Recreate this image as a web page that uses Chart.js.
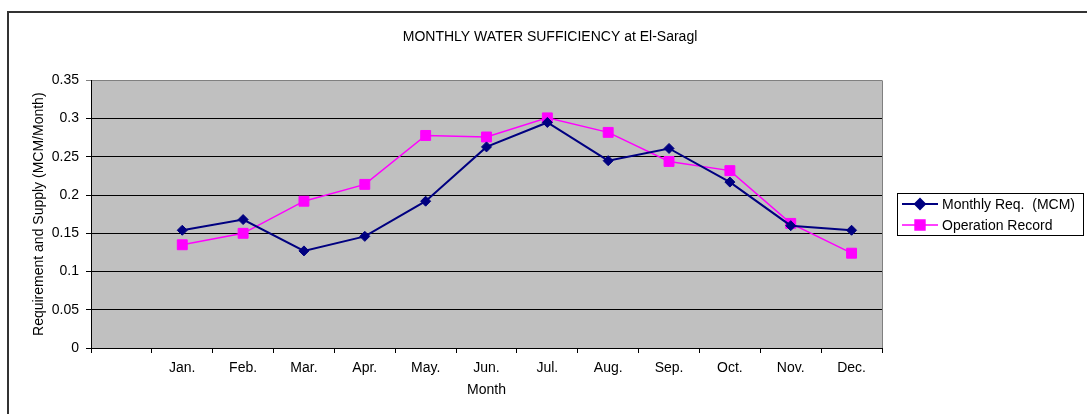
<!DOCTYPE html>
<html>
<head>
<meta charset="utf-8">
<script src="https://cdn.jsdelivr.net/npm/chart.js@4.4.1/dist/chart.umd.min.js"></script>
<style>
  html, body { margin: 0; padding: 0; background: #fff; }
  #wrap { width: 1087px; height: 414px; position: relative; }
</style>
</head>
<body>
<div id="wrap"><canvas id="water-chart" width="1087" height="414"></canvas></div>
<script>
const months = ['', 'Jan.', 'Feb.', 'Mar.', 'Apr.', 'May.', 'Jun.', 'Jul.', 'Aug.', 'Sep.', 'Oct.', 'Nov.', 'Dec.'];
const monthlyReq = [null, 0.154, 0.168, 0.127, 0.146, 0.192, 0.263, 0.295, 0.245, 0.261, 0.217, 0.160, 0.154];
const operationRecord = [null, 0.135, 0.150, 0.192, 0.214, 0.278, 0.276, 0.301, 0.282, 0.244, 0.232, 0.163, 0.124];
const seriesNames = ['Monthly Req.  (MCM)', 'Operation Record'];

const FONT = '"Liberation Sans", Arial, sans-serif';

// frame, grey plot background and the boxed legend (Excel style)
const excelLook = {
    id: 'excelLook',
    beforeDraw(chart) {
        const { ctx, chartArea: a } = chart;
        ctx.save();
        ctx.fillStyle = '#c0c0c0';
        ctx.fillRect(a.left, a.top, a.right - a.left, a.bottom - a.top);
        ctx.strokeStyle = '#333';
        ctx.lineWidth = 2;
        ctx.beginPath();
        ctx.moveTo(8, 414);
        ctx.lineTo(8, 12);
        ctx.lineTo(1087, 12);
        ctx.stroke();
        ctx.restore();
    },
    afterDatasetsDraw(chart) {
        const { ctx, chartArea: a } = chart;
        ctx.save();
        ctx.strokeStyle = '#808080';
        ctx.lineWidth = 1;
        ctx.beginPath();
        ctx.moveTo(a.right + 0.5, a.top);
        ctx.lineTo(a.right + 0.5, a.bottom);
        ctx.stroke();

        // legend
        ctx.strokeStyle = '#000';
        ctx.strokeRect(897.5, 193.5, 186, 42);
        ctx.font = '14px ' + FONT;
        ctx.textBaseline = 'middle';
        ctx.textAlign = 'left';
        chart.data.datasets.forEach((ds, i) => {
            const y = 204 + i * 21;
            ctx.strokeStyle = ds.borderColor;
            ctx.lineWidth = ds.borderWidth;
            ctx.beginPath();
            ctx.moveTo(902, y);
            ctx.lineTo(938, y);
            ctx.stroke();
            ctx.fillStyle = ds.pointBackgroundColor;
            ctx.strokeStyle = ds.borderColor;
            Chart.helpers.drawPoint(ctx, {
                pointStyle: ds.pointStyle,
                radius: ds.pointRadius,
                rotation: 0,
                borderWidth: 1
            }, 920, y);
            ctx.fillStyle = '#000';
            ctx.fillText(ds.label, 942, y + 1);
        });
        ctx.restore();
    }
};

const ctx = document.getElementById('water-chart').getContext('2d');
new Chart(ctx, {
    type: 'line',
    data: {
        labels: months,
        datasets: [{
            label: seriesNames[0],
            data: monthlyReq,
            borderColor: '#000080',
            backgroundColor: '#000080',
            pointBackgroundColor: '#000080',
            borderWidth: 2,
            pointStyle: 'rectRot',
            pointRadius: 5,
            pointBorderWidth: 1,
            tension: 0
        }, {
            label: seriesNames[1],
            data: operationRecord,
            borderColor: '#ff00ff',
            backgroundColor: '#ff00ff',
            pointBackgroundColor: '#ff00ff',
            borderWidth: 1.5,
            pointStyle: 'rect',
            pointRadius: 7,
            pointBorderWidth: 1,
            tension: 0
        }]
    },
    options: {
        responsive: false,
        animation: false,
        layout: {
            padding: { left: 13, right: 0, top: 0, bottom: 0 }
        },
        plugins: {
            legend: { display: false },
            tooltip: { enabled: false },
            title: {
                display: true,
                text: 'MONTHLY WATER SUFFICIENCY at El-Saragl',
                color: '#000',
                font: { family: FONT, size: 14, weight: 'normal', lineHeight: 1.2 },
                padding: { top: 28.6, bottom: 35 }
            }
        },
        scales: {
            x: {
                offset: true,
                grid: {
                    offset: true,
                    drawOnChartArea: false,
                    drawTicks: true,
                    tickLength: 5,
                    color: '#000'
                },
                border: { color: '#000', width: 1 },
                ticks: {
                    color: '#000',
                    padding: 7,
                    maxRotation: 0,
                    autoSkip: false,
                    font: { family: FONT, size: 14 }
                },
                title: {
                    display: true,
                    text: 'Month',
                    color: '#000',
                    font: { family: FONT, size: 14 },
                    padding: { top: 0, bottom: 15.6 }
                },
                afterFit: (scale) => { scale.height = 66; }
            },
            y: {
                min: 0,
                max: 0.35,
                ticks: {
                    stepSize: 0.05,
                    color: '#000',
                    padding: 7,
                    font: { family: FONT, size: 14 },
                    callback: (v) => String(Number(v.toFixed(2)))
                },
                grid: {
                    color: (c) => (c.tick && c.tick.value >= 0.349 ? '#808080' : '#000'),
                    tickLength: 5,
                    lineWidth: 1
                },
                border: { color: '#000', width: 1 },
                title: {
                    display: true,
                    text: 'Requirement and Supply (MCM/Month)',
                    color: '#000',
                    font: { family: FONT, size: 14 },
                    padding: { top: 18, bottom: 0 }
                },
                afterFit: (scale) => { scale.width = 78; }
            },
            // empty right axis only reserves the space where the legend box sits
            legendSpace: {
                position: 'right',
                min: 0,
                max: 0.35,
                grid: { display: false },
                border: { display: false },
                ticks: { display: false },
                afterFit: (scale) => { scale.width = 205; }
            }
        }
    },
    plugins: [excelLook]
});
</script>
</body>
</html>
